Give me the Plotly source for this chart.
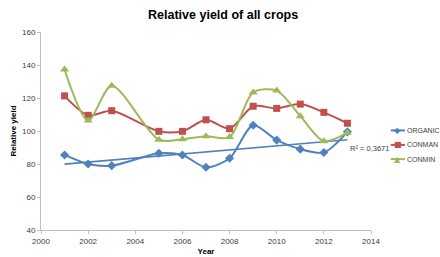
import numpy as np
import plotly.graph_objects as go

years = [2001, 2002, 2003, 2005, 2006, 2007, 2008, 2009, 2010, 2011, 2012, 2013]
organic = [85.5, 80, 79, 86.5, 85.5, 78, 83.5, 103.5, 94.5, 89, 87, 99.5]
conman = [121.3, 109.5, 112.3, 99.8, 99.8, 106.8, 101.4, 115, 113.7, 116.3, 111.3, 104.7]
conmin = [137.2, 106.3, 127.4, 94.7, 95, 96.8, 96.3, 123.4, 124.5, 109, 93.8, 99]
series_names = ["ORGANIC", "CONMAN", "CONMIN"]
r2_label = "R² = 0,3671"

colors = ["#4F81BD", "#C0504D", "#9BBB59"]
symbols = ["diamond", "square", "triangle-up"]
glyphs = ["◆", "■", "▲"]
series = [organic, conman, conmin]

slope, intercept = np.polyfit(years, organic, 1)
trend_x = [years[0], years[-1]]
trend_y = [slope * x + intercept for x in trend_x]

fig = go.Figure()
fig.add_trace(go.Scatter(x=trend_x, y=trend_y, mode="lines", line=dict(color=colors[0], width=1.6),
                         showlegend=False, hoverinfo="skip"))
for name, vals, col, sym in zip(series_names, series, colors, symbols):
    fig.add_trace(go.Scatter(x=years, y=vals, name=name, mode="lines+markers",
                             line=dict(color=col, width=2, shape="spline", smoothing=0.8),
                             marker=dict(symbol=sym, size=8 if sym == "triangle-up" else 7, color=col),
                             showlegend=False))

fig.add_annotation(x=trend_x[-1], y=trend_y[-1], text=r2_label, showarrow=False,
                   xanchor="left", yanchor="top", xshift=1, yshift=-2,
                   font=dict(family="Liberation Sans, Arial", size=7.5, color="#404040"))

# manual legend
leg_y = [0.503, 0.430, 0.358]
for name, col, g, ly in zip(series_names, colors, glyphs, leg_y):
    fig.add_shape(type="line", xref="paper", yref="paper", x0=1.06, x1=1.103, y0=ly, y1=ly,
                  line=dict(color=col, width=2))
    fig.add_annotation(xref="paper", yref="paper", x=1.0815, y=ly, text=g, showarrow=False,
                       xanchor="center", yanchor="middle",
                       font=dict(family="DejaVu Sans", size=8, color=col))
    fig.add_annotation(xref="paper", yref="paper", x=1.106, y=ly, text=name, showarrow=False,
                       xanchor="left", yanchor="middle", borderpad=0,
                       font=dict(family="Liberation Sans, Arial", size=7, color="#404040"))

axis_font = dict(family="Liberation Sans, Arial", size=8, color="#404040")
fig.update_layout(
    width=440, height=257,
    margin=dict(l=41, r=69, t=32, b=27),
    paper_bgcolor="white", plot_bgcolor="white",
    title=dict(text="<b>Relative yield of all crops</b>", x=0.507, xanchor="center", y=0.945, yanchor="middle",
               font=dict(family="Liberation Sans, Arial", size=12.5, color="#000")),
    xaxis=dict(range=[2000, 2014], dtick=2, showgrid=False, zeroline=False, showline=True, automargin=False,
               linecolor="#BFBFBF", linewidth=1, ticks="outside", ticklen=3, tickcolor="#BFBFBF",
               tickfont=axis_font,
               title=dict(text="<b>Year</b>", standoff=3, font=dict(family="Liberation Sans, Arial", size=8, color="#000"))),
    yaxis=dict(range=[40, 160], dtick=20, showgrid=False, zeroline=False, showline=True, automargin=False,
               linecolor="#BFBFBF", linewidth=1, ticks="outside", ticklen=3, tickcolor="#BFBFBF",
               tickfont=axis_font,
               title=dict(text="<b>Relative yield</b>", standoff=4, font=dict(family="Liberation Sans, Arial", size=8, color="#000"))),
    showlegend=False,
)
fig.write_html("out.html", config={"displayModeBar": False},
               post_script="document.body.style.margin='0';document.body.style.overflow='hidden';")
